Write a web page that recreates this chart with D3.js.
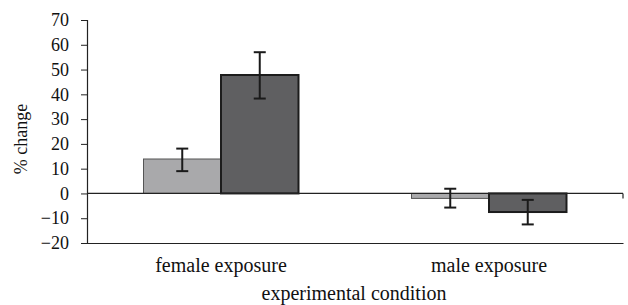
<!DOCTYPE html>
<html>
<head>
<meta charset="utf-8">
<script src="https://cdn.jsdelivr.net/npm/d3@7"></script>
<style>
  body { margin: 0; background: #fff; }
  text { font-family: "Liberation Serif", "DejaVu Serif", serif; fill: #111; }
</style>
</head>
<body>
<svg width="628" height="305"></svg>
<script>
var conditions = ["female exposure", "male exposure"];
var groups = ["light", "dark"];
var lightValues = [13.9, -2.0];
var lightErrLow = [9.0, -5.7];
var lightErrHigh = [18.1, 1.9];
var darkValues = [47.8, -7.5];
var darkErrLow = [38.3, -12.5];
var darkErrHigh = [57.0, -2.6];
var yTicks = [-20, -10, 0, 10, 20, 30, 40, 50, 60, 70];

var data = [];
conditions.forEach(function(c, i) {
  data.push({cond: c, grp: "light", v: lightValues[i], lo: lightErrLow[i], hi: lightErrHigh[i]});
  data.push({cond: c, grp: "dark", v: darkValues[i], lo: darkErrLow[i], hi: darkErrHigh[i]});
});

var svg = d3.select("svg"),
    mLeft = 87, mRight = 623, mTop = 20, mBottom = 243;

var x = d3.scaleBand().domain(conditions).range([mLeft, mRight]).padding(0);
var xg = d3.scaleBand().domain(groups).range([0, 155]);
var y = d3.scaleLinear().domain([-20, 70]).range([mBottom, mTop]);

function gx(d) { return x(d.cond) + (x.bandwidth() - 155) / 2 + xg(d.grp); }

// bars
svg.selectAll(".bar")
  .data(data)
  .enter().append("rect")
  .attr("class", "bar")
  .attr("x", gx)
  .attr("y", function(d) { return y(Math.max(0, d.v)); })
  .attr("width", xg.bandwidth())
  .attr("height", function(d) { return Math.abs(y(d.v) - y(0)); })
  .attr("fill", function(d) { return d.grp == "light" ? "#a9a9ab" : "#5f5f61"; })
  .attr("stroke", function(d) { return d.grp == "light" ? "#555" : "#1c1c1c"; })
  .attr("stroke-width", function(d) { return d.grp == "light" ? 1 : 2; });

// zero line
svg.append("line")
  .attr("x1", mLeft).attr("x2", mRight)
  .attr("y1", y(0)).attr("y2", y(0))
  .attr("stroke", "#222").attr("stroke-width", 1.2);
svg.append("line")
  .attr("x1", mRight).attr("x2", mRight)
  .attr("y1", y(0)).attr("y2", y(0) + 5)
  .attr("stroke", "#222").attr("stroke-width", 1.2);

// error bars
var eb = svg.selectAll(".err").data(data).enter().append("g").attr("class", "err")
  .attr("stroke", "#1a1a1a").attr("stroke-width", 2);
eb.append("line")
  .attr("x1", function(d) { return gx(d) + xg.bandwidth() / 2; })
  .attr("x2", function(d) { return gx(d) + xg.bandwidth() / 2; })
  .attr("y1", function(d) { return y(d.hi); })
  .attr("y2", function(d) { return y(d.lo); });
["hi", "lo"].forEach(function(k) {
  eb.append("line")
    .attr("x1", function(d) { return gx(d) + xg.bandwidth() / 2 - 6; })
    .attr("x2", function(d) { return gx(d) + xg.bandwidth() / 2 + 6; })
    .attr("y1", function(d) { return y(d[k]); })
    .attr("y2", function(d) { return y(d[k]); });
});

// y axis
var yAxis = svg.append("g")
  .attr("transform", "translate(" + mLeft + ",0)")
  .call(d3.axisLeft(y).tickValues(yTicks).tickSize(6).tickPadding(12)
    .tickFormat(function(d) { return d < 0 ? "\u2212" + Math.abs(d) : d; }));
yAxis.select(".domain").attr("stroke", "#222").attr("stroke-width", 1.2);
yAxis.selectAll(".tick line").attr("stroke", "#222");
yAxis.selectAll("text")
  .style("font-family", "'Liberation Serif', serif")
  .style("font-size", "18px").attr("fill", "#111");

// x axis
var xAxis = svg.append("g")
  .attr("transform", "translate(0," + mBottom + ")")
  .call(d3.axisBottom(x).tickSize(0).tickPadding(15));
xAxis.select(".domain").attr("stroke", "#222").attr("stroke-width", 1.2);
xAxis.selectAll("text")
  .style("font-family", "'Liberation Serif', serif")
  .style("font-size", "20px").attr("fill", "#111");

svg.append("text")
  .attr("x", 354)
  .attr("y", 300)
  .attr("text-anchor", "middle")
  .style("font-size", "20px")
  .text("experimental condition");

svg.append("text")
  .attr("transform", "translate(27,139) rotate(-90)")
  .attr("text-anchor", "middle")
  .style("font-size", "18px")
  .text("% change");
</script>
</body>
</html>
